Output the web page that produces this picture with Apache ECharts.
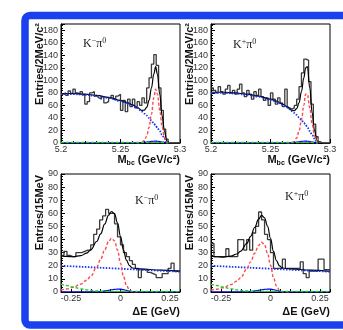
<!DOCTYPE html>
<html><head><meta charset="utf-8">
<script src="https://cdn.jsdelivr.net/npm/echarts@6/dist/echarts.min.js"></script>
<style>html,body{margin:0;padding:0;background:#fff}#c{width:343px;height:330px}</style>
</head><body><div id="c"></div>
<script>
// ---------- data ----------
const mbcStart = 5.2, mbcBin = 0.002;          // 50 bins, 2 MeV
const deStart = -0.3, deBin = 0.015;           // 40 bins, 15 MeV

const histMbcKm = [78,80,76,83,79,86,80,78,82,77, 62,66,80,82,75,72,70,74,64,66,
                   72,76,70,75,78,52,68,50,70,58, 70,56,66,60,72,64,88,104,126,141,
                   124,88,52,22,6,0,0,0,0,0];
const histMbcKp = [88,84,80,90,82,78,86,92,80,84, 78,86,94,80,74,84,78,70,82,76,
                   86,74,68,72,60,80,70,62,72,64, 58,86,56,54,56,60,70,90,112,134,
                   132,98,62,30,10,2,0,0,0,0];
const histDeKm = [28,31,28,27,27,30,30,31,32,32, 36,44,48,55,58,63,60,60,52,42,
                  36,30,27,24,21,18,11,17,17,15, 14,13,11,11,14,14,18,22,16,16];
const histDeKp = [37,27,27,27,27,33,27,27,27,40, 40,32,40,32,45,50,61,55,44,40,
                  30,18,18,18,25,18,18,18,18,18, 23,14,11,16,16,16,25,25,17,17];

const fitMbcX   = [5.200,5.210,5.220,5.230,5.240,5.250,5.255,5.260,5.264,5.268,5.270,
                   5.272,5.274,5.276,5.278,5.2795,5.281,5.283,5.285,5.287,5.289,5.290];
const totalMbcKm = [79,79,78,76,73,68,65,61,57,52,52.5,57,68,88,110,122,110,78,43,18,3,0];
const argusMbcKm = [78,78,77,75,72,67,64,60,56,50,47,44,40,36,31,28,24,19,13,7,1,0];
const sigMbcKm   = [0,0,0,0,0,0,0,0,0,1,4,11,25,46,72,86,78,52,26,9,2,0];
const totalMbcKp = [81,81,80,78,75,70,67,62,58,52,51.5,55,64,82,104,120,122,88,48,20,4,0];
const argusMbcKp = [80,80,79,77,74,69,66,61,57,51,48,45,41,37,32,29,25,19,13,7,1,0];
const sigMbcKp   = [0,0,0,0,0,0,0,0,0,0.5,2.5,8,19,37,60,78,78,56,30,11,3,0];
const peakMbc    = [0,0,0,0,0,0,0,0,0,0.5,0.9,1.5,2,2.5,2.8,3,2.8,2.3,1.6,1,0.4,0];
const greenMbc   = [0.8,0.8,0.8,0.8,0.8,0.8,0.8,0.8,0.8,0.8,0.8,0.8,0.8,0.8,0.8,0.8,0.8,0.8,0.6,0.3,0,0];

const fitDeX    = [-0.30,-0.27,-0.24,-0.20,-0.17,-0.15,-0.12,-0.10,-0.08,-0.06,-0.045,
                   -0.03,-0.015,0.00,0.015,0.03,0.045,0.06,0.10,0.20,0.30];
const totalDeKm = [27.5,27.1,26.9,27.7,29.7,32.2,38.5,44.4,51.7,58.6,61.4,59.6,52.7,42.5,32,24.3,20.1,18.3,17.6,16.7,15.8];
const sigDeKm   = [1.5,2.3,3.5,6,9,12,19,25,32,38.5,41,39,32,22,12,5,1.5,0.2,0,0,0];
const totalDeKp = [27.4,26.9,26.6,27.3,29,31.2,37,42.4,49.2,55.6,58.4,56.6,50.2,41,31,23.9,20,18.3,17.6,16.7,15.8];
const sigDeKp   = [1.4,2.1,3.2,5.6,8.3,11,17.5,23,29.5,35.5,38,36,29.5,20.5,11,4.6,1.4,0.2,0,0,0];
const greenDe   = [6,5,3.8,2.4,1.6,1.2,0.8,0.6,0.5,0.5,0.5,0.5,0.5,0.5,0.5,0.5,0.5,0.5,0.5,0.4,0.3];
const peakDe    = [0,0,0,0,0,0,0,0.3,0.8,1.3,1.7,2,2.2,2.2,1.8,1.2,0.6,0.2,0,0,0];
const bkgDeX    = [-0.30, 0.30];
const bkgDeKm   = [20, 15.5];
const bkgDeKp   = [20, 15.5];

const mbcTicks = [5.2, 5.25, 5.3];
const deTicks  = [-0.25, 0, 0.25];

// ---------- helpers ----------
function stepData(start, bin, vals) {
  const d = vals.map((v, i) => [start + bin * i, v]);
  d.push([start + bin * vals.length, vals[vals.length - 1]]);
  return d;
}
function zip(xs, ys) { return xs.map((x, i) => [x, ys[i]]); }
function hist(idx, data) {
  return {type:'line', xAxisIndex:idx, yAxisIndex:idx, data, step:'end', symbol:'none',
          lineStyle:{color:'#3a3a3a', width:1.3}, z:2};
}
function curve(idx, data, color, type, width, z) {
  return {type:'line', xAxisIndex:idx, yAxisIndex:idx, data, symbol:'none', smooth:0.4,
          smoothMonotone:'x', lineStyle:{color, type, width}, z};
}
const F = '"Liberation Sans", Arial, sans-serif';
const grids = [
  {left:61, top:24, width:119, height:119},
  {left:211, top:24, width:119, height:119},
  {left:61, top:174, width:119, height:118},
  {left:211, top:174, width:119, height:118}
].map(g => Object.assign(g, {show:true, borderColor:'#000', borderWidth:1, containLabel:false}));

function xAx(i, top) {
  const base = {type:'value', gridIndex:i, splitLine:{show:false},
    axisLine:{show:true, onZero:false, lineStyle:{color:'#000', width:1}},
    axisTick:{show:true, inside:true, length:4, lineStyle:{color:'#000'}},
    axisLabel:{fontSize:9, color:'#333', fontFamily:F, margin:2}};
  if (top) {
    return Object.assign(base, {min:5.2, max:5.3, interval:0.05,
      minorTick:{show:true, splitNumber:5, length:2, lineStyle:{color:'#000'}},
      axisLabel:Object.assign(base.axisLabel, {formatter: v => {
        const t = mbcTicks.find(k => Math.abs(k - v) < 1e-6); return t === undefined ? '' : String(t);}})});
  }
  return Object.assign(base, {min:-0.3, max:0.3, interval:0.05,
    axisTick:{show:true, inside:true, length:3, lineStyle:{color:'#000'}},
    axisLabel:Object.assign(base.axisLabel, {formatter: v => {
      const t = deTicks.find(k => Math.abs(k - v) < 1e-6); return t === undefined ? '' : String(t);}})});
}
function yAx(i, top) {
  return {type:'value', gridIndex:i, min:0, max: top ? 190 : 90, interval: top ? 20 : 10,
    splitLine:{show:false},
    axisLine:{show:true, onZero:false, lineStyle:{color:'#000', width:1}},
    axisTick:{show:true, inside:true, length:4, lineStyle:{color:'#000'}},
    minorTick:{show:true, splitNumber:5, length:2, lineStyle:{color:'#000'}},
    axisLabel:{fontSize:9, color:'#333', fontFamily:F, margin:3, showMaxLabel: !top}};
}

const RED = '#ff4a4a', BLUED = '#1234ee', GREEN = '#22cc22', BLUES = '#0000ff';
const series = [];
// Mbc panels
[[0, histMbcKm, totalMbcKm, argusMbcKm, sigMbcKm], [1, histMbcKp, totalMbcKp, argusMbcKp, sigMbcKp]]
  .forEach(([i, h, tot, arg, sig]) => {
    series.push(hist(i, stepData(mbcStart, mbcBin, h)));
    series.push(curve(i, zip(fitMbcX, tot), '#000', 'solid', 1.2, 3));
    series.push(curve(i, zip(fitMbcX, arg), BLUED, [1.5, 1.5], 1.8, 4));
    series.push(curve(i, zip(fitMbcX.slice(8), sig.slice(8)), RED, [3, 2], 1.4, 5));
    series.push(curve(i, zip(fitMbcX, greenMbc), GREEN, [3, 2], 1.4, 6));
    series.push(curve(i, zip(fitMbcX, peakMbc), BLUES, 'solid', 1.2, 5));
  });
// Delta E panels
[[2, histDeKm, totalDeKm, bkgDeKm, sigDeKm], [3, histDeKp, totalDeKp, bkgDeKp, sigDeKp]]
  .forEach(([i, h, tot, bkg, sig]) => {
    series.push(hist(i, stepData(deStart, deBin, h)));
    series.push(curve(i, zip(fitDeX, tot), '#000', 'solid', 1.2, 3));
    series.push(curve(i, zip(bkgDeX, bkg), BLUED, [1.5, 1.5], 1.8, 4));
    series.push(curve(i, zip(fitDeX.slice(0, 19), sig.slice(0, 19)), RED, [3, 2], 1.4, 5));
    series.push(curve(i, zip(fitDeX, greenDe), GREEN, [3, 2], 1.4, 6));
    series.push(curve(i, zip(fitDeX, peakDe), BLUES, 'solid', 1.2, 5));
  });

function yTitle(x, y, text) {
  return {type:'text', x, y, rotation:Math.PI/2, z:10,
    style:{text, font:'bold 11px ' + F, fill:'#111', align:'right', verticalAlign:'middle'}};
}
function xTitle(x, y, text, rich) {
  return {type:'text', x, y, z:10,
    style:{text, fill:'#111', align:'right', verticalAlign:'middle', font:'bold 11px ' + F,
      rich: rich ? {a:{font:'bold 11px ' + F, lineHeight:13}, s:{font:'bold 7px ' + F, lineHeight:7, verticalAlign:'bottom'}} : undefined}};
}
function chan(x, y, sign) {
  return {type:'text', x, y, z:10,
    style:{text:'{k|K}{p|' + sign + '}{k|π}{p|0}', fill:'#222', align:'left', verticalAlign:'middle',
      rich:{k:{font:'12px "Liberation Serif", "DejaVu Serif", serif', lineHeight:14, fill:'#222'},
            p:{font:'8px "Liberation Serif", "DejaVu Serif", serif', lineHeight:8, verticalAlign:'top', fill:'#222'}}}};
}

const chart = echarts.init(document.getElementById('c'), null, {renderer:'canvas'});
chart.setOption({
  animation:false, backgroundColor:'#fff',
  grid: grids,
  xAxis: [xAx(0, true), xAx(1, true), xAx(2, false), xAx(3, false)],
  yAxis: [yAx(0, true), yAx(1, true), yAx(2, false), yAx(3, false)],
  series,
  graphic: [
    {type:'rect', z:20, shape:{x:25, y:15.5, width:400, height:309.5, r:5},
     style:{fill:'none', stroke:'#1a40f0', lineWidth:7.5}},
    yTitle(39.5, 23, 'Entries/2MeV/c²'), yTitle(189.5, 23, 'Entries/2MeV/c²'),
    yTitle(39.5, 175, 'Entries/15MeV'), yTitle(189.5, 175, 'Entries/15MeV'),
    xTitle(180, 160, '{a|M}{s|bc}{a| (GeV/c²)}', true), xTitle(330, 160, '{a|M}{s|bc}{a| (GeV/c²)}', true),
    xTitle(180, 312, 'ΔE (GeV)'), xTitle(330, 312, 'ΔE (GeV)'),
    chan(83, 44, '−'), chan(233, 45, '+'), chan(135, 201, '−'), chan(285, 197, '+')
  ]
});
</script></body></html>
